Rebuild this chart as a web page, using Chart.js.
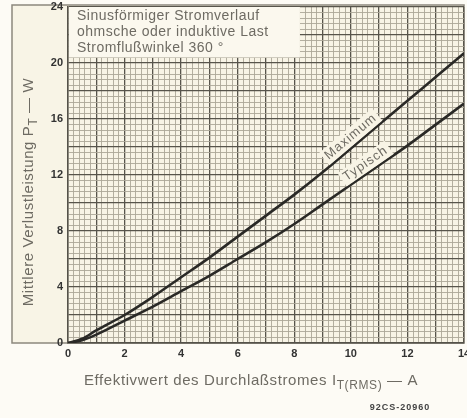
<!DOCTYPE html>
<html>
<head>
<meta charset="utf-8">
<script src="https://cdn.jsdelivr.net/npm/chart.js@4/dist/chart.umd.min.js"></script>
<style>
  body { margin: 0; background: #fdfbf5; }
  canvas { display: block; }
</style>
</head>
<body>
<canvas id="loss" width="467" height="418"></canvas>
<script>
// Effektivwert I_T(RMS) in A
const current = [0, 0.5, 1, 2, 3, 4, 5, 6, 7, 8, 9, 10, 11, 12, 13, 14];
// Mittlere Verlustleistung P_T in W
const maxLoss = [0, 0.3, 0.9, 2.0, 3.3, 4.7, 6.1, 7.6, 9.1, 10.6, 12.2, 13.9, 15.6, 17.3, 19.0, 20.7];
const typLoss = [0, 0.2, 0.6, 1.6, 2.6, 3.7, 4.8, 6.0, 7.2, 8.5, 9.9, 11.3, 12.7, 14.1, 15.6, 17.1];

const xTicks = [0, 2, 4, 6, 8, 10, 12, 14];
const yTicks = [0, 4, 8, 12, 16, 20, 24];

const noteLines = ['Sinusförmiger Stromverlauf', 'ohmsche oder induktive Last', 'Stromflußwinkel 360 °'];

const ink = '#2a2926';
const grey = '#6e6b63';
const paper = '#f8f4e6';
const minorGrid = '#aca797';
const majorGrid = '#57544b';
const font = '"Liberation Sans", Arial, sans-serif';

const near = (v, step) => Math.abs(v / step - Math.round(v / step)) < 1e-6;

const toPoints = (ys) => current.map((x, i) => ({ x, y: ys[i] }));

// text with a subscript part
function richText(ctx, parts, x, y, size, align) {
  const subSize = Math.round(size * 0.8);
  let total = 0;
  for (const p of parts) {
    ctx.font = (p.sub ? subSize : size) + 'px ' + font;
    p.w = ctx.measureText(p.t).width;
    total += p.w;
  }
  let cx = align === 'center' ? x - total / 2 : x;
  ctx.textAlign = 'left';
  ctx.textBaseline = 'middle';
  for (const p of parts) {
    ctx.font = (p.sub ? subSize : size) + 'px ' + font;
    ctx.fillText(p.t, cx, p.sub ? y + size * 0.3 : y);
    cx += p.w;
  }
}

function curveLabel(chart, ys, xv, lift, text) {
  const { ctx } = chart;
  const xs = chart.scales.x, yscale = chart.scales.y;
  const i = current.findIndex(c => c > xv);
  const t = (xv - current[i - 1]) / (current[i] - current[i - 1]);
  const yv = ys[i - 1] + t * (ys[i] - ys[i - 1]);
  const ang = Math.atan2(
    yscale.getPixelForValue(ys[i]) - yscale.getPixelForValue(ys[i - 1]),
    xs.getPixelForValue(current[i]) - xs.getPixelForValue(current[i - 1]));
  const px = xs.getPixelForValue(xv), py = yscale.getPixelForValue(yv);
  ctx.save();
  ctx.translate(px, py);
  ctx.rotate(ang);
  ctx.font = '13px ' + font;
  ctx.letterSpacing = '1px';
  const w = ctx.measureText(text).width;
  ctx.fillStyle = paper;
  ctx.fillRect(-w / 2 - 3, -lift - 8, w + 6, 16);
  ctx.fillStyle = grey;
  ctx.textAlign = 'center';
  ctx.textBaseline = 'middle';
  ctx.fillText(text, 0, -lift);
  ctx.restore();
}

const sheet = {
  id: 'sheet',
  beforeDraw(chart) {
    const { ctx, chartArea: a } = chart;
    ctx.save();
    ctx.fillStyle = '#fdfbf5';
    ctx.fillRect(0, 0, chart.width, chart.height);
    ctx.fillStyle = paper;
    ctx.fillRect(12, 5, a.right - 12, a.bottom - 5);
    ctx.strokeStyle = '#8c887d';
    ctx.lineWidth = 1.5;
    ctx.strokeRect(12, 5, a.right - 12, a.bottom - 5);
    ctx.restore();
  },
  beforeDatasetsDraw(chart) {
    const { ctx, chartArea: a } = chart;
    const right = chart.scales.x.getPixelForValue(8.2);
    const bottom = chart.scales.y.getPixelForValue(20.4);
    ctx.save();
    ctx.fillStyle = '#fbf8ee';
    ctx.fillRect(a.left + 1, a.top, right - a.left - 1, bottom - a.top);
    ctx.fillStyle = grey;
    ctx.font = '14px ' + font;
    ctx.letterSpacing = '0.5px';
    ctx.textBaseline = 'middle';
    noteLines.forEach((s, i) => ctx.fillText(s, a.left + 9, a.top + 9 + i * 16));
    ctx.restore();
  },
  afterDatasetsDraw(chart) {
    curveLabel(chart, maxLoss, 10.2, 9, 'Maximum');
    curveLabel(chart, typLoss, 10.7, 9, 'Typisch');
  },
  afterDraw(chart) {
    const { ctx, chartArea: a } = chart;
    ctx.save();
    ctx.fillStyle = grey;
    ctx.letterSpacing = '0.6px';
    richText(ctx, [{ t: 'Effektivwert des Durchlaßstromes I' }, { t: 'T(RMS)', sub: true }, { t: ' — A' }],
      251, 381, 15, 'center');
    ctx.translate(29, 192);
    ctx.rotate(-Math.PI / 2);
    richText(ctx, [{ t: 'Mittlere Verlustleistung P' }, { t: 'T', sub: true }, { t: ' — W' }], 0, 0, 15, 'center');
    ctx.restore();
    ctx.save();
    ctx.fillStyle = '#444';
    ctx.font = 'bold 9px ' + font;
    ctx.letterSpacing = '1px';
    ctx.textAlign = 'center';
    ctx.fillText('92CS-20960', 400, 410);
    ctx.restore();
  }
};

new Chart(document.getElementById('loss'), {
  type: 'scatter',
  data: {
    datasets: [
      { label: 'Maximum', data: toPoints(maxLoss) },
      { label: 'Typisch', data: toPoints(typLoss) }
    ].map(d => Object.assign(d, {
      showLine: true,
      borderColor: ink,
      borderWidth: 2.6,
      pointRadius: 0,
      cubicInterpolationMode: 'monotone'
    }))
  },
  options: {
    responsive: false,
    animation: false,
    layout: { padding: { top: 7, right: 3 } },
    plugins: { legend: { display: false }, tooltip: { enabled: false } },
    scales: {
      x: {
        type: 'linear',
        min: 0,
        max: 14,
        afterFit: s => { s.height = 75; s.paddingLeft = 0; s.paddingRight = 0; },
        ticks: {
          stepSize: 0.2,
          autoSkip: false,
          maxRotation: 0,
          padding: 4,
          color: '#333',
          font: { family: font, size: 11, weight: 'bold' },
          callback: v => xTicks.some(t => Math.abs(t - v) < 1e-6) ? Math.round(v) : ''
        },
        grid: {
          drawTicks: false,
          color: c => near(c.tick.value, 1) ? majorGrid : minorGrid,
          lineWidth: c => near(c.tick.value, 1) ? 1.3 : 0.9
        },
        border: { color: '#55524a', width: 1.5 }
      },
      y: {
        min: 0,
        max: 24,
        afterFit: s => { s.width = 68; s.paddingTop = 0; s.paddingBottom = 0; },
        ticks: {
          stepSize: 0.4,
          autoSkip: false,
          padding: 5,
          color: '#333',
          font: { family: font, size: 11, weight: 'bold' },
          callback: v => yTicks.some(t => Math.abs(t - v) < 1e-6) ? Math.round(v) : ''
        },
        grid: {
          drawTicks: false,
          color: c => near(c.tick.value, 2) ? majorGrid : minorGrid,
          lineWidth: c => near(c.tick.value, 2) ? 1.3 : 0.9
        },
        border: { color: '#55524a', width: 1.5 }
      }
    }
  },
  plugins: [sheet]
});
</script>
</body>
</html>
